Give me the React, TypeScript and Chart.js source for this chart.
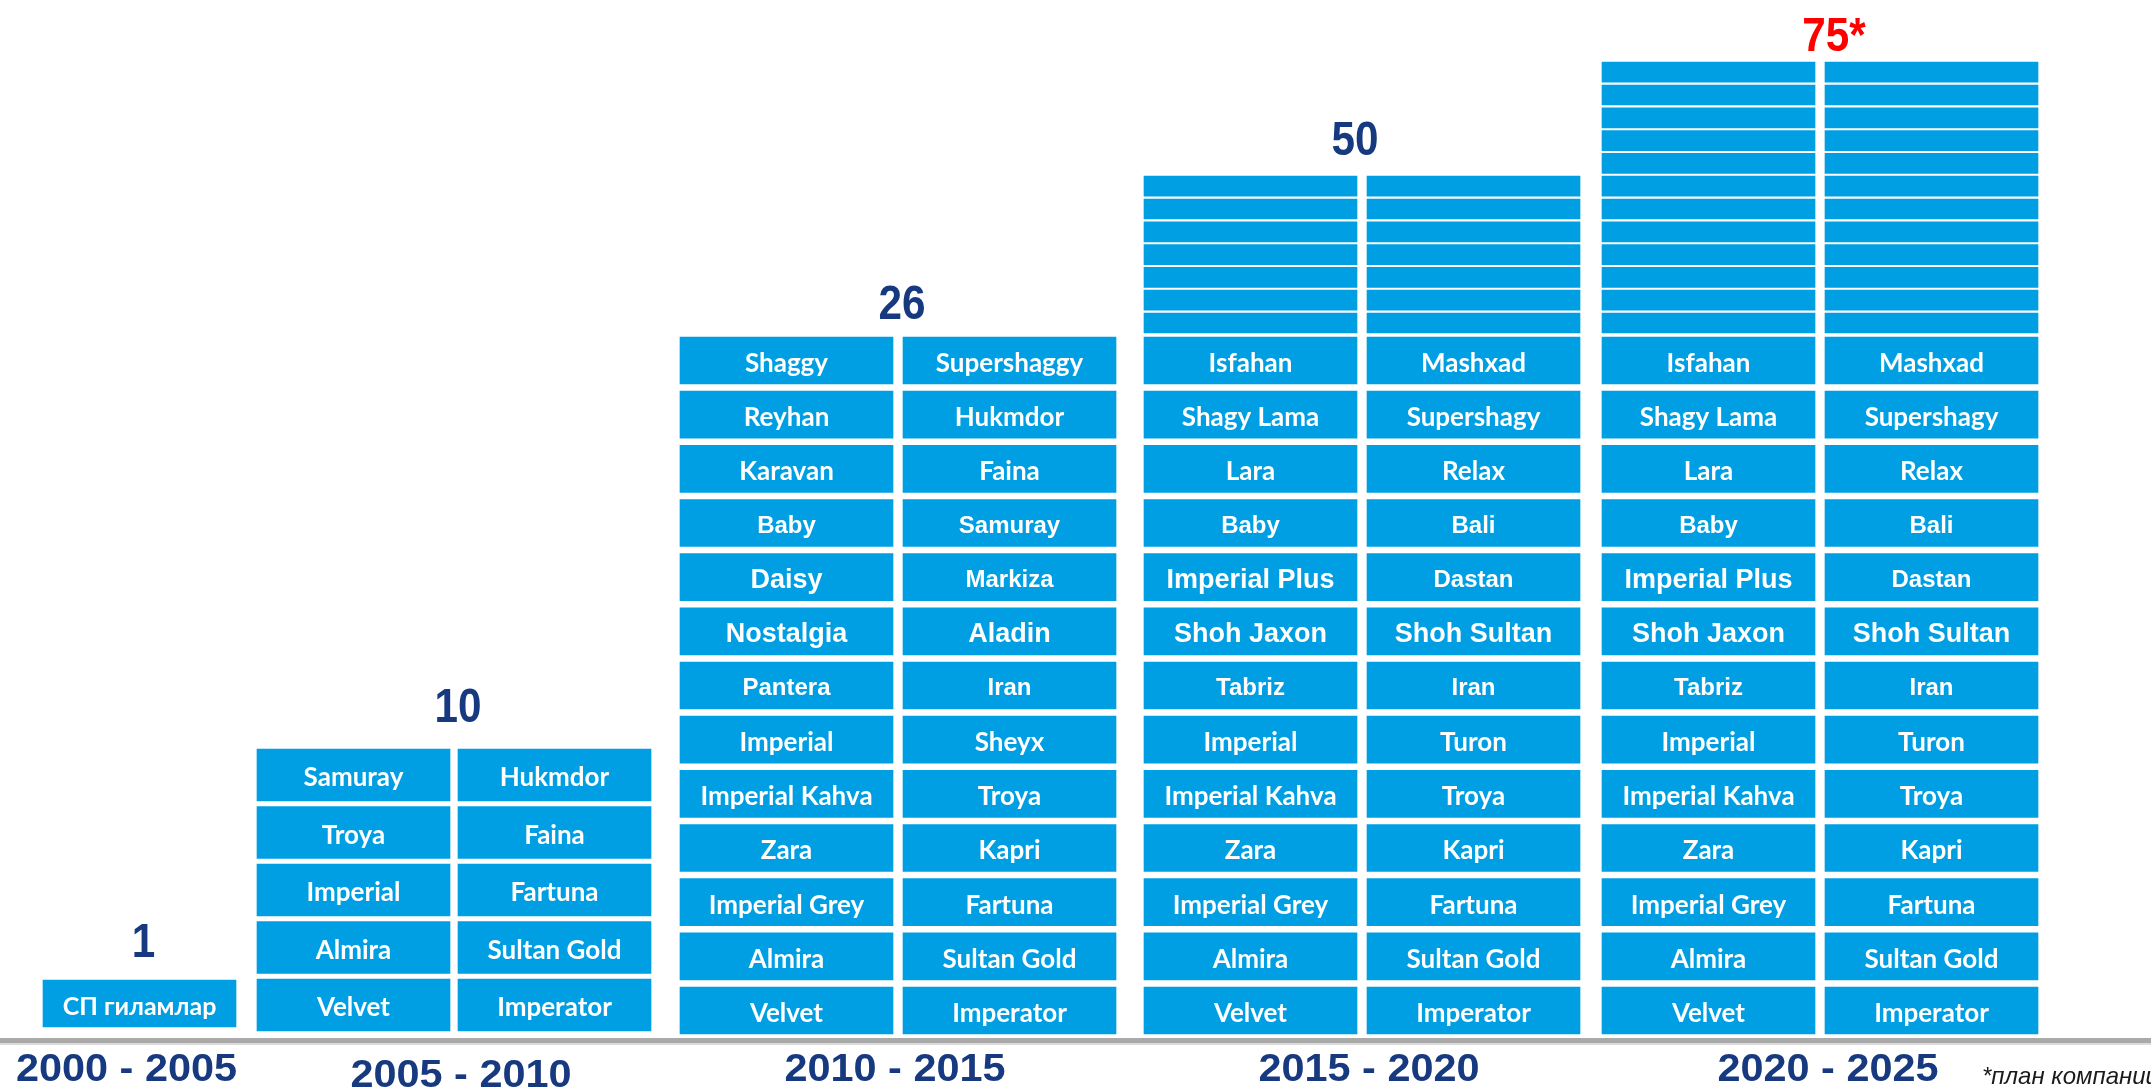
import React, { useEffect, useRef } from 'react';
import { Chart, registerables } from 'chart.js';

Chart.register(...registerables);

// ---------------- DATA ----------------
const periods = ['2000 - 2005', '2005 - 2010', '2010 - 2015', '2015 - 2020', '2020 - 2025'];
const periodCounts = ['1', '10', '26', '50', '75*'];
const plannedPeriod = [false, false, false, false, true];

const p1Brands = ['СП гиламлар'];
const p2BrandsA = ['Samuray', 'Troya', 'Imperial', 'Almira', 'Velvet'];
const p2BrandsB = ['Hukmdor', 'Faina', 'Fartuna', 'Sultan Gold', 'Imperator'];
const p3BrandsA = ['Shaggy', 'Reyhan', 'Karavan', 'Baby', 'Daisy', 'Nostalgia', 'Pantera', 'Imperial', 'Imperial Kahva', 'Zara', 'Imperial Grey', 'Almira', 'Velvet'];
const p3BrandsB = ['Supershaggy', 'Hukmdor', 'Faina', 'Samuray', 'Markiza', 'Aladin', 'Iran', 'Sheyx', 'Troya', 'Kapri', 'Fartuna', 'Sultan Gold', 'Imperator'];
const p4BrandsA = ['Isfahan', 'Shagy Lama', 'Lara', 'Baby', 'Imperial Plus', 'Shoh Jaxon', 'Tabriz', 'Imperial', 'Imperial Kahva', 'Zara', 'Imperial Grey', 'Almira', 'Velvet'];
const p4BrandsB = ['Mashxad', 'Supershagy', 'Relax', 'Bali', 'Dastan', 'Shoh Sultan', 'Iran', 'Turon', 'Troya', 'Kapri', 'Fartuna', 'Sultan Gold', 'Imperator'];
const p5BrandsA = ['Isfahan', 'Shagy Lama', 'Lara', 'Baby', 'Imperial Plus', 'Shoh Jaxon', 'Tabriz', 'Imperial', 'Imperial Kahva', 'Zara', 'Imperial Grey', 'Almira', 'Velvet'];
const p5BrandsB = ['Mashxad', 'Supershagy', 'Relax', 'Bali', 'Dastan', 'Shoh Sultan', 'Iran', 'Turon', 'Troya', 'Kapri', 'Fartuna', 'Sultan Gold', 'Imperator'];
// unlabeled (future) product blocks on top of each column
const p4ExtraRows = [7, 7];
const p5ExtraRows = [12, 12];
const footnote = '*план компании';

// ---------------- LAYOUT (not data) ----------------
const W = 2151;
const BASE_PX = 1038; // baseline pixel row
const COL_LEFT = [[43], [257, 458], [680, 903], [1144, 1367], [1602, 1825]];
const COL_WIDTH = [193, 193, 213, 213, 213];
const ROWS = [
  { bottom: 11, h: 47, pitch: 0 },
  { bottom: 7, h: 52, pitch: 57.5 },
  { bottom: 4, h: 47, pitch: 54.17 },
  { bottom: 4, h: 47, pitch: 54.17 },
  { bottom: 4, h: 47, pitch: 54.17 },
];
const THIN = { bottom: 705, h: 20, pitch: 22.8 };
const COUNT_DX = [4, 4, 4, -7, 14];
const COUNT_GAP = [23, 27, 18, 21, 11];
const YEAR_DX = [-13, 7, -3, 7, 8];
const YEAR_BASE = [1081, 1087, 1081, 1081, 1081];

const ARIAL_BIG = new Set(['Daisy', 'Nostalgia', 'Aladin', 'Imperial Plus', 'Shoh Jaxon', 'Shoh Sultan']);
const ARIAL_SMALL_P3 = new Set(['Baby', 'Samuray', 'Markiza', 'Pantera', 'Iran']);
const ARIAL_SMALL_P45 = new Set(['Baby', 'Tabriz', 'Iran', 'Bali', 'Dastan']);

const BLUE = '#009FE3';
const NAVY = '#17397F';

const periodColumns = [
  [p1Brands],
  [p2BrandsA, p2BrandsB],
  [p3BrandsA, p3BrandsB],
  [p4BrandsA, p4BrandsB],
  [p5BrandsA, p5BrandsB],
];
const periodExtra = [[0], [0, 0], [0, 0], p4ExtraRows, p5ExtraRows];

type Block = { x: number; y: [number, number]; label: string };

function buildDatasets() {
  return periods.map((name, p) => {
    const data: Block[] = [];
    periodColumns[p].forEach((brands, c) => {
      const cx = COL_LEFT[p][c] + COL_WIDTH[p] / 2;
      const n = brands.length;
      const g = ROWS[p];
      brands.forEach((label, i) => {
        const r = n - 1 - i;
        const y0 = g.bottom + r * g.pitch;
        data.push({ x: cx, y: [y0, y0 + g.h], label });
      });
      for (let k = 0; k < periodExtra[p][c]; k++) {
        const y0 = THIN.bottom + k * THIN.pitch;
        data.push({ x: cx, y: [y0, y0 + THIN.h], label: '' });
      }
    });
    return {
      label: name,
      data,
      backgroundColor: BLUE,
      borderWidth: 0,
      barThickness: COL_WIDTH[p],
      grouped: true,
      stack: 'all',
    };
  });
}

function drawScaledText(ctx: CanvasRenderingContext2D, text: string, x: number, y: number, sx: number) {
  ctx.save();
  ctx.translate(x, y);
  ctx.scale(sx, 1);
  ctx.fillText(text, 0, 0);
  ctx.restore();
}

function labelFont(p: number, label: string) {
  if (p === 0) return 'bold 25px Lato, "Open Sans", sans-serif';
  if (ARIAL_BIG.has(label)) return 'bold 27px "Liberation Sans", Arial, sans-serif';
  if (p === 2 && ARIAL_SMALL_P3.has(label)) return 'bold 24px "Liberation Sans", Arial, sans-serif';
  if (p >= 3 && ARIAL_SMALL_P45.has(label)) return 'bold 24px "Liberation Sans", Arial, sans-serif';
  return 'bold 26px Lato, "Open Sans", sans-serif';
}

const overlayPlugin = {
  id: 'overlay',
  afterDatasetsDraw(chart: any) {
    const ctx: CanvasRenderingContext2D = chart.ctx;
    const yScale = chart.scales.y;
    const base = yScale.getPixelForValue(0);
    ctx.save();
    // baseline
    ctx.fillStyle = '#a9a9a9';
    ctx.fillRect(0, base, chart.width, 5);
    ctx.fillStyle = '#dcdcdc';
    ctx.fillRect(0, base + 5, chart.width, 2);

    chart.data.datasets.forEach((ds: any, p: number) => {
      const meta = chart.getDatasetMeta(p);
      let top = Infinity;
      const xs: number[] = [];
      meta.data.forEach((el: any, i: number) => {
        const raw = ds.data[i] as Block;
        top = Math.min(top, el.y);
        if (!xs.includes(el.x)) xs.push(el.x);
        if (!raw.label) return;
        const cy = (el.y + el.base) / 2;
        ctx.fillStyle = '#ffffff';
        ctx.textAlign = 'center';
        ctx.textBaseline = 'middle';
        ctx.font = labelFont(p, raw.label);
        ctx.fillText(raw.label, el.x, cy + 3);
      });
      const cx = xs.reduce((a, b) => a + b, 0) / xs.length;
      // count above the column group
      ctx.textAlign = 'center';
      ctx.textBaseline = 'alphabetic';
      ctx.font = 'bold 48px "Liberation Sans", Arial, sans-serif';
      ctx.fillStyle = plannedPeriod[p] ? '#FF0000' : NAVY;
      drawScaledText(ctx, periodCounts[p], cx + COUNT_DX[p], top - COUNT_GAP[p], 0.88);
      // period label below baseline
      ctx.font = 'bold 38px "Liberation Sans", Arial, sans-serif';
      ctx.fillStyle = NAVY;
      drawScaledText(ctx, periods[p], cx + YEAR_DX[p], base + (YEAR_BASE[p] - BASE_PX), 1.09);
    });

    ctx.font = 'italic 24px "Liberation Sans", Arial, sans-serif';
    ctx.fillStyle = '#1a1a1a';
    ctx.textAlign = 'left';
    ctx.textBaseline = 'alphabetic';
    ctx.fillText(footnote, 1982, base + 46);
    ctx.restore();
  },
};

export default function App() {
  const ref = useRef<HTMLCanvasElement>(null);
  useEffect(() => {
    const canvas = ref.current;
    if (!canvas) return;
    const chart = new Chart(canvas, {
      type: 'bar',
      data: { datasets: buildDatasets() as any },
      options: {
        animation: false,
        responsive: true,
        maintainAspectRatio: false,
        layout: { padding: 0 },
        plugins: { legend: { display: false }, tooltip: { enabled: false }, title: { display: false } },
        scales: {
          x: { type: 'linear', min: 0, max: W, offset: false, display: false },
          y: { type: 'linear', min: -(1091 - BASE_PX), max: BASE_PX, stacked: false, display: false },
        },
      },
      plugins: [overlayPlugin],
    });
    return () => chart.destroy();
  }, []);
  return (
    <div style={{ position: 'fixed', left: 0, top: 0, width: '100vw', height: '100vh', background: '#ffffff' }}>
      <canvas ref={ref} />
    </div>
  );
}
